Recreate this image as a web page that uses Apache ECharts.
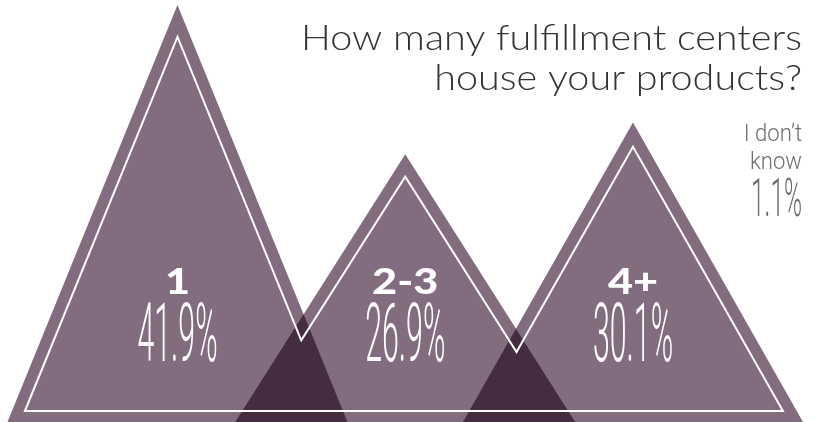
<!DOCTYPE html>
<html><head><meta charset="utf-8">
<script src="https://cdn.jsdelivr.net/npm/echarts@6/dist/echarts.min.js"></script>
<style>html,body{margin:0;padding:0;background:#fff}#c{width:820px;height:422px}</style>
</head><body><div id="c"></div>
<script>
// ---- data ----
const categories = ['1', '2-3', '4+'];
const values = [41.9, 26.9, 30.1];
const otherLines = ['I don\u2019t', 'know'];
const otherValue = 1.1;
const titleLines = ['How many fulfillment centers', 'house your products?'];

// ---- style ----
const FILL = '#826c80';
const OVERLAP = '#442d40';
const HALF_BASE = 170;   // half base width of each mountain, px
const INSET = 12;        // inner outline offset from sides, px
const BASE_INSET = 11;   // inner outline offset from base, px

function geom(api, i) {
  const apex = api.coord([i, values[i]]);
  const base = api.coord([i, 0]);
  const cx = apex[0], ya = apex[1], yb = base[1];
  const m = HALF_BASE / (yb - ya);
  const k = INSET * Math.sqrt(1 + m * m);
  return { cx, ya, yb, m, k };
}

const chart = echarts.init(document.getElementById('c'), null, { renderer: 'canvas' });
chart.setOption({
  backgroundColor: '#ffffff',
  animation: false,
  grid: { left: 63.6, right: 73.15, top: 4, bottom: -2 },
  xAxis: { type: 'category', data: categories, show: false },
  yAxis: { type: 'value', min: 0, max: 42, show: false },
  graphic: [
    { type: 'text', x: 802, y: 38.5, scaleX: 1.13, silent: true,
      style: { text: titleLines[0], font: '300 35px Lato', fill: '#333333', align: 'right', verticalAlign: 'middle' } },
    { type: 'text', x: 802, y: 78.5, scaleX: 1.13, silent: true,
      style: { text: titleLines[1], font: '300 35px Lato', fill: '#333333', align: 'right', verticalAlign: 'middle' } },
    { type: 'text', x: 802, y: 135, scaleX: 0.92, silent: true,
      style: { text: otherLines[0], font: '300 24px Roboto', fill: '#6e6e6e', align: 'right', verticalAlign: 'middle' } },
    { type: 'text', x: 802, y: 163, scaleX: 0.92, silent: true,
      style: { text: otherLines[1], font: '300 24px Roboto', fill: '#6e6e6e', align: 'right', verticalAlign: 'middle' } },
    { type: 'text', x: 802, y: 203, scaleX: 0.46, silent: true,
      style: { text: otherValue.toFixed(1) + '%', font: '300 53px Roboto', fill: '#6e6e6e', align: 'right', verticalAlign: 'middle' } }
  ],
  series: [
    {
      type: 'custom', name: 'mountains', clip: false, silent: true, z: 1,
      data: values,
      renderItem(params, api) {
        const g = geom(api, params.dataIndex);
        return {
          type: 'polygon',
          shape: { points: [[g.cx - HALF_BASE, g.yb], [g.cx, g.ya], [g.cx + HALF_BASE, g.yb]] },
          style: { fill: FILL }
        };
      }
    },
    {
      type: 'custom', name: 'overlaps', clip: false, silent: true, z: 2,
      data: values.slice(0, -1),
      renderItem(params, api) {
        const i = params.dataIndex;
        const a = geom(api, i), b = geom(api, i + 1);
        const Ma = HALF_BASE / (a.yb - a.ya), Mb = HALF_BASE / (b.yb - b.ya);
        const y = (b.cx - a.cx + Ma * a.ya + Mb * b.ya) / (Ma + Mb);
        const x = a.cx + Ma * (y - a.ya);
        return {
          type: 'polygon',
          shape: { points: [[b.cx - HALF_BASE, b.yb], [x, y], [a.cx + HALF_BASE, a.yb]] },
          style: { fill: OVERLAP }
        };
      }
    },
    {
      type: 'custom', name: 'outline', clip: false, silent: true, z: 3,
      data: [0],
      renderItem(params, api) {
        const G = values.map((v, i) => geom(api, i));
        const ybi = G[0].yb - BASE_INSET;
        const pts = [];
        const g0 = G[0];
        pts.push([g0.cx - g0.m * (ybi - g0.ya) + g0.k, ybi]);
        for (let i = 0; i < G.length; i++) {
          const g = G[i];
          pts.push([g.cx, g.ya + g.k / g.m]);
          if (i < G.length - 1) {
            const h = G[i + 1];
            const y = (h.cx - g.cx + g.k + h.k + g.m * g.ya + h.m * h.ya) / (g.m + h.m);
            pts.push([g.cx + g.m * (y - g.ya) - g.k, y]);
          }
        }
        const gl = G[G.length - 1];
        pts.push([gl.cx + gl.m * (ybi - gl.ya) - gl.k, ybi]);
        return {
          type: 'polygon', shape: { points: pts },
          style: { fill: 'none', stroke: '#ffffff', lineWidth: 2 }
        };
      }
    },
    {
      type: 'custom', name: 'labels', clip: false, silent: true, z: 4,
      data: values,
      renderItem(params, api) {
        const i = params.dataIndex;
        const base = api.coord([i, 0]);
        return {
          type: 'group',
          children: [
            { type: 'text', x: base[0], y: base[1] - 140, scaleX: 1.2,
              style: { text: categories[i], font: '900 36px Lato', fill: '#ffffff', align: 'center', verticalAlign: 'middle' } },
            { type: 'text', x: base[0], y: base[1] - 81.5, scaleX: 0.37,
              style: { text: values[i].toFixed(1) + '%', font: '300 82px Roboto', fill: '#ffffff', align: 'center', verticalAlign: 'middle' } }
          ]
        };
      }
    }
  ]
});
</script>
</body></html>
